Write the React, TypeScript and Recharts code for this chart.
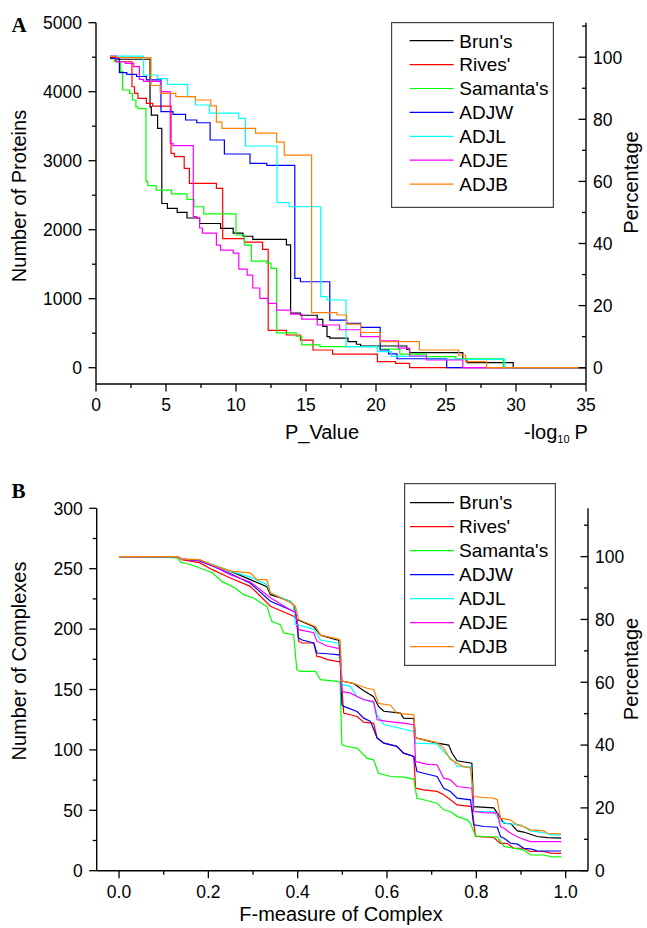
import React from 'react';
import { LineChart, Line, XAxis, YAxis, Legend } from 'recharts';

const FONT = '"Liberation Sans", Arial, Helvetica, sans-serif';
const SERIF = '"Liberation Serif", "Times New Roman", serif';

const seriesNames = ["Brun's", "Rives'", "Samanta's", 'ADJW', 'ADJL', 'ADJE', 'ADJB'];
const seriesColors = ['#000000', '#ff0000', '#00ff00', '#0000ff', '#00ffff', '#ff00ff', '#ff8000'];

// ---- Panel A : number of proteins vs -log10 P (step curves: [x, level from x]) ----
const brunA = [[1, 4490], [1.5, 4470], [3.86, 3780], [3.95, 3660], [4.4, 3470], [4.7, 2380], [5.1, 2310], [5.8, 2250], [6.5, 2170], [7.4, 2090], [8.9, 2020], [9.8, 1950], [10.5, 1905], [11.2, 1860], [13.6, 1780], [13.9, 790], [14.6, 760], [15.8, 700], [16.2, 600], [16.5, 450], [16.7, 430], [18.0, 377], [18.6, 340], [18.9, 315], [22.2, 266], [22.4, 218], [26.2, 122], [26.5, 73], [29.8, 0], [35, 0]];
const rivesA = [[1, 4500], [1.4, 4434], [2.57, 4072], [2.75, 3977], [3.0, 3904], [3.6, 3832], [4.05, 3792], [5.36, 3107], [5.6, 3060], [6.3, 2890], [6.67, 2672], [8.6, 2600], [9.05, 1870], [10.6, 1820], [11.9, 1715], [12.3, 540], [13.6, 474], [14.6, 401], [15.5, 257], [16.9, 198], [20.1, 87], [21.4, 63], [22.4, 0], [35, 0]];
const samantaA = [[1, 4480], [1.3, 4440], [1.75, 4290], [1.9, 4025], [2.4, 3977], [2.6, 3880], [2.85, 3780], [3.0, 3755], [3.57, 2700], [3.7, 2640], [4.3, 2575], [5.4, 2520], [6.5, 2440], [7.0, 2333], [7.7, 2230], [10.0, 1923], [10.6, 1778], [11.1, 1545], [12.2, 1517], [12.5, 1440], [12.9, 505], [14.3, 456], [14.7, 330], [16.0, 305], [20.3, 270], [21.7, 198], [23.6, 160], [25.7, 130], [29.1, 0], [35, 0]];
const adjwA = [[1, 4484], [1.67, 4276], [2.2, 4250], [2.9, 4220], [3.6, 4170], [4.64, 3710], [5.5, 3670], [6.4, 3590], [7.2, 3550], [8.15, 3300], [9.17, 3097], [11.0, 2962], [12.2, 2933], [14.2, 1295], [14.6, 1246], [16.7, 691], [17.9, 643], [18.9, 585], [20.3, 257], [20.9, 200], [21.5, 130], [25.05, 0], [35, 0]];
const adjlA = [[1, 4517], [3.4, 4242], [4.4, 4190], [5.1, 4107], [6.55, 3928], [7.1, 3807], [8.1, 3690], [10.2, 3614], [10.67, 3213], [12.93, 2392], [13.8, 2333], [16.05, 1029], [16.5, 981], [17.86, 305], [20.1, 232], [21.1, 165], [23.6, 122], [29.2, 0], [35, 0]];
const adjeA = [[1, 4517], [1.45, 4434], [2.1, 4410], [2.7, 4363], [3.1, 4180], [3.4, 4150], [4.6, 4000], [5.3, 3252], [5.5, 3220], [6.95, 2190], [7.2, 2170], [7.4, 2025], [7.6, 1950], [8.6, 1778], [8.9, 1705], [9.8, 1660], [10.2, 1430], [10.8, 1343], [11.2, 1155], [11.7, 1005], [12.3, 933], [12.9, 836], [13.9, 778], [14.7, 705], [15.8, 619], [17.4, 550], [18.9, 450], [20.3, 391], [21.6, 285], [22.4, 170], [23.6, 112], [26.2, 0], [35, 0]];
const adjbA = [[1, 4510], [1.5, 4495], [3.93, 4090], [4.6, 3977], [5.7, 3930], [7.1, 3880], [8.2, 3795], [8.6, 3560], [9.0, 3470], [11.4, 3400], [12.9, 3270], [13.45, 3080], [15.4, 797], [17.2, 764], [17.9, 633], [18.9, 510], [20.3, 377], [23.1, 257], [25.9, 184], [26.4, 87], [27.9, 0], [35, 0]];

// ---- Panel B : number of complexes vs F-measure ----
const brunB = [[0, 260], [0.13, 260], [0.14, 258], [0.18, 257], [0.21, 253], [0.249, 248], [0.294, 241], [0.331, 235], [0.339, 228.5], [0.36, 226], [0.383, 223], [0.391, 220], [0.398, 208], [0.436, 202], [0.451, 195], [0.488, 191], [0.492, 191], [0.499, 157], [0.525, 155], [0.548, 149], [0.57, 144], [0.581, 136], [0.593, 132], [0.63, 130.5], [0.637, 126.3], [0.66, 126], [0.664, 110], [0.712, 105.6], [0.738, 104], [0.746, 97], [0.757, 91], [0.79, 89], [0.794, 53], [0.839, 52], [0.847, 47.6], [0.862, 39.3], [0.877, 39], [0.892, 33], [0.906, 32], [0.936, 28.3], [0.959, 27.4], [0.99, 27]];
const rivesB = [[0, 260], [0.13, 260], [0.14, 257.5], [0.18, 255], [0.21, 249], [0.249, 242.3], [0.294, 235.4], [0.339, 218.9], [0.391, 210.6], [0.398, 208], [0.402, 190], [0.41, 188.5], [0.436, 188.5], [0.443, 177.4], [0.451, 177], [0.466, 174.7], [0.488, 173.3], [0.495, 173], [0.503, 130.5], [0.533, 127.7], [0.548, 123], [0.57, 122], [0.578, 109.8], [0.593, 105.6], [0.622, 103], [0.637, 97.3], [0.66, 94.5], [0.664, 68.3], [0.682, 66.9], [0.712, 65.6], [0.727, 62.8], [0.742, 58.7], [0.757, 54.5], [0.79, 53.1], [0.798, 28.3], [0.839, 27.5], [0.854, 22.7], [0.869, 22.7], [0.884, 18.6], [0.906, 18.6], [0.921, 15.9], [0.951, 15.9], [0.966, 14.5], [0.99, 14.4]];
const samantaB = [[0, 260], [0.077, 260], [0.13, 259], [0.14, 255], [0.15, 254.5], [0.17, 252], [0.21, 246.4], [0.23, 239.5], [0.26, 234], [0.279, 228.5], [0.301, 225.8], [0.324, 220.2], [0.331, 219], [0.342, 206.4], [0.361, 203.7], [0.369, 196.8], [0.391, 195.4], [0.398, 166.4], [0.406, 165], [0.44, 165], [0.451, 158.1], [0.488, 156.7], [0.495, 156], [0.499, 104.2], [0.51, 102.8], [0.533, 101.5], [0.555, 93.2], [0.57, 91.8], [0.581, 80.7], [0.608, 78], [0.637, 77.4], [0.66, 75.8], [0.667, 60], [0.682, 58.7], [0.712, 55.9], [0.727, 50.4], [0.742, 49], [0.757, 45], [0.779, 42.1], [0.787, 39.3], [0.798, 28.8], [0.817, 28.3], [0.847, 28], [0.862, 20], [0.884, 18.6], [0.906, 17.2], [0.921, 13], [0.951, 13], [0.966, 11.7], [0.99, 11.5]];
const adjwB = [[0, 260], [0.13, 260], [0.14, 258], [0.18, 256.5], [0.21, 252], [0.249, 246], [0.294, 238], [0.339, 223], [0.383, 216], [0.395, 214], [0.402, 192.6], [0.41, 191], [0.436, 188.5], [0.443, 180.2], [0.466, 179.6], [0.488, 178.8], [0.495, 178.5], [0.499, 137.4], [0.503, 136], [0.533, 131.8], [0.548, 126.3], [0.563, 123.6], [0.578, 109.8], [0.593, 105.6], [0.622, 102.9], [0.637, 97.3], [0.66, 94.5], [0.667, 82.1], [0.682, 80.7], [0.712, 78], [0.727, 68.3], [0.742, 65.6], [0.757, 60], [0.787, 58.7], [0.794, 38], [0.817, 36.6], [0.847, 36], [0.854, 28.3], [0.862, 26.9], [0.877, 22.7], [0.892, 22], [0.906, 18.6], [0.921, 18], [0.936, 16.4], [0.99, 16.3]];
const adjlB = [[0, 260], [0.13, 260], [0.14, 258], [0.18, 257.5], [0.21, 253.5], [0.249, 248], [0.294, 243], [0.331, 237], [0.339, 230], [0.383, 223], [0.391, 219], [0.395, 204], [0.436, 200], [0.451, 191], [0.488, 188.5], [0.495, 188], [0.499, 154], [0.518, 152.6], [0.533, 144], [0.57, 139], [0.578, 129], [0.593, 121], [0.66, 115.3], [0.664, 105.6], [0.712, 105], [0.727, 98.7], [0.75, 90.4], [0.757, 86.3], [0.787, 86], [0.794, 49], [0.839, 49], [0.854, 40.7], [0.869, 39], [0.899, 38], [0.921, 33], [0.959, 31], [0.966, 29.7], [0.99, 29.7]];
const adjeB = [[0, 260], [0.13, 260], [0.14, 258], [0.18, 257], [0.21, 252.5], [0.249, 245], [0.294, 239], [0.339, 226], [0.383, 216], [0.395, 214], [0.402, 199.5], [0.436, 197], [0.443, 190], [0.466, 186], [0.488, 184.3], [0.495, 184], [0.499, 148.4], [0.518, 147], [0.548, 141.5], [0.57, 140], [0.578, 125], [0.6, 123.6], [0.637, 122.2], [0.66, 120.8], [0.664, 90.4], [0.69, 88], [0.712, 87.7], [0.727, 76.6], [0.742, 75.2], [0.757, 69.7], [0.79, 68.3], [0.794, 49], [0.817, 48], [0.847, 47.6], [0.854, 36.6], [0.862, 35.2], [0.877, 31], [0.899, 26.9], [0.921, 24.1], [0.99, 24]];
const adjbB = [[0, 260], [0.13, 260], [0.14, 258], [0.18, 257.5], [0.21, 253], [0.249, 248], [0.294, 246.5], [0.309, 241], [0.331, 241], [0.339, 230], [0.383, 222], [0.395, 219], [0.402, 208], [0.44, 202], [0.451, 195], [0.488, 192], [0.495, 191], [0.499, 157], [0.525, 155], [0.555, 151], [0.57, 150], [0.581, 138.5], [0.608, 137], [0.622, 130.5], [0.66, 129], [0.664, 110], [0.712, 106], [0.727, 101.5], [0.742, 92], [0.772, 86], [0.787, 85], [0.794, 61.4], [0.839, 60], [0.847, 58.7], [0.854, 43.5], [0.877, 42], [0.892, 37.9], [0.906, 36.6], [0.921, 33.8], [0.951, 33], [0.959, 31], [0.99, 30.5]];

// ---- tick values ----
const xTicksA = [0, 2.5, 5, 7.5, 10, 12.5, 15, 17.5, 20, 22.5, 25, 27.5, 30, 32.5, 35];
const yTicksA = [0, 500, 1000, 1500, 2000, 2500, 3000, 3500, 4000, 4500, 5000];
const xTicksB = [0, 0.1, 0.2, 0.3, 0.4, 0.5, 0.6, 0.7, 0.8, 0.9, 1.0];
const yTicksB = [0, 25, 50, 75, 100, 125, 150, 175, 200, 225, 250, 275, 300];
const pctTicks = [0, 10, 20, 30, 40, 50, 60, 70, 80, 90, 100, 110];

const toData = (pts: number[][]) => pts.map(([x, y]) => ({ x, y }));
const seriesA = [brunA, rivesA, samantaA, adjwA, adjlA, adjeA, adjbA].map(toData);
const seriesB = [brunB, rivesB, samantaB, adjwB, adjlB, adjeB, adjbB].map(toData);

const TICK_FS = 17.5;

const bottomTick = (isMajor: (v: number) => boolean, fmt: (v: number) => string) => (props: any) => {
  const { x, y, payload } = props;
  const major = isMajor(payload.value);
  return (
    <g>
      <line x1={x} y1={y} x2={x} y2={y + (major ? 7.5 : 4)} stroke="#000" strokeWidth={1.3} />
      {major && (
        <text x={x} y={y + 27} textAnchor="middle" fontSize={TICK_FS} fontFamily={FONT} fill="#000">
          {fmt(payload.value)}
        </text>
      )}
    </g>
  );
};

const leftTick = (isMajor: (v: number) => boolean) => (props: any) => {
  const { x, y, payload } = props;
  const major = isMajor(payload.value);
  return (
    <g>
      <line x1={x - (major ? 7.5 : 4)} y1={y} x2={x} y2={y} stroke="#000" strokeWidth={1.3} />
      {major && (
        <text x={x - 14} y={y} dy="0.36em" textAnchor="end" fontSize={TICK_FS} fontFamily={FONT} fill="#000">
          {String(payload.value)}
        </text>
      )}
    </g>
  );
};

const rightTick = (props: any) => {
  const { x, y, payload } = props;
  const major = payload.value % 20 === 0 && payload.value <= 100;
  return (
    <g>
      <line x1={x - (major ? 7.5 : 4)} y1={y} x2={x} y2={y} stroke="#000" strokeWidth={1.3} />
      {major && (
        <text x={x + 7} y={y} dy="0.36em" textAnchor="start" fontSize={TICK_FS} fontFamily={FONT} fill="#000">
          {String(payload.value)}
        </text>
      )}
    </g>
  );
};

type Box = { w: number; h: number; r0: number; lx: number; tx: number; step: number };

const legendContent = (box: Box) => () => (
  <svg width={box.w} height={box.h} style={{ display: 'block' }}>
    <rect x={0.6} y={0.6} width={box.w - 1.2} height={box.h - 1.2} fill="#fff" stroke="#444" strokeWidth={1.2} />
    {seriesNames.map((name, i) => (
      <g key={name}>
        <line x1={box.lx} x2={box.lx + 44} y1={box.r0 + i * box.step} y2={box.r0 + i * box.step} stroke={seriesColors[i]} strokeWidth={1.2} />
        <text x={box.tx} y={box.r0 + i * box.step + 6.8} fontSize={19} fontFamily={FONT} fill="#000">
          {name}
        </text>
      </g>
    ))}
  </svg>
);

const axisLine = { stroke: '#000', strokeWidth: 1.4 };

export default function App() {
  return (
    <div style={{ position: 'absolute', left: 0, top: 0, width: 647, height: 928, background: '#fff' }}>
      <div style={{ position: 'absolute', left: 0, top: 0 }}>
        <LineChart width={647} height={450} margin={{ top: 22.7, right: 21, bottom: 36, left: 46 }}>
          <XAxis
            type="number"
            dataKey="x"
            domain={[0, 35]}
            ticks={xTicksA}
            interval={0}
            allowDataOverflow
            height={30}
            tickSize={0}
            tickMargin={0}
            tickLine={false}
            axisLine={axisLine}
            tick={bottomTick((v) => v % 5 === 0, (v) => String(v))}
          />
          <YAxis
            yAxisId="left"
            type="number"
            domain={[-236, 5000]}
            ticks={yTicksA}
            interval={0}
            allowDataOverflow
            width={50}
            tickSize={0}
            tickMargin={0}
            tickLine={false}
            axisLine={axisLine}
            tick={leftTick((v) => v % 1000 === 0)}
          />
          <YAxis
            yAxisId="right"
            orientation="right"
            type="number"
            domain={[-236 / 45, 5000 / 45]}
            ticks={pctTicks}
            interval={0}
            allowDataOverflow
            width={40}
            tickSize={0}
            tickMargin={0}
            tickLine={false}
            axisLine={axisLine}
            tick={rightTick}
          />
          <Legend
            layout="vertical"
            align="center"
            verticalAlign="middle"
            wrapperStyle={{ left: 390.7, top: 22, width: 163, height: 186 }}
            content={legendContent({ w: 163, h: 186, r0: 18.7, lx: 18.6, tx: 68.3, step: 23.9 })}
          />
          {seriesA.map((d, i) => (
            <Line
              key={seriesNames[i]}
              yAxisId="left"
              data={d}
              dataKey="y"
              name={seriesNames[i]}
              type="stepAfter"
              stroke={seriesColors[i]}
              strokeWidth={1.2}
              dot={false}
              activeDot={false}
              isAnimationActive={false}
            />
          ))}
        </LineChart>
      </div>

      <div style={{ position: 'absolute', left: 0, top: 470 }}>
        <LineChart width={647} height={458} margin={{ top: 38.3, right: 19, bottom: 27.3, left: 46.7 }}>
          <XAxis
            type="number"
            dataKey="x"
            domain={[-0.05, 1.05]}
            ticks={xTicksB}
            interval={0}
            allowDataOverflow
            height={30}
            tickSize={0}
            tickMargin={0}
            tickLine={false}
            axisLine={axisLine}
            tick={bottomTick((v) => Math.round(v * 10) % 2 === 0, (v) => v.toFixed(1))}
          />
          <YAxis
            yAxisId="left"
            type="number"
            domain={[0, 300]}
            ticks={yTicksB}
            interval={0}
            allowDataOverflow
            width={50}
            tickSize={0}
            tickMargin={0}
            tickLine={false}
            axisLine={axisLine}
            tick={leftTick((v) => v % 50 === 0)}
          />
          <YAxis
            yAxisId="right"
            orientation="right"
            type="number"
            domain={[0, 300 / 2.6]}
            ticks={pctTicks}
            interval={0}
            allowDataOverflow
            width={40}
            tickSize={0}
            tickMargin={0}
            tickLine={false}
            axisLine={axisLine}
            tick={rightTick}
          />
          <Legend
            layout="vertical"
            align="center"
            verticalAlign="middle"
            wrapperStyle={{ left: 404, top: 12.7, width: 152, height: 183 }}
            content={legendContent({ w: 152, h: 183, r0: 19.6, lx: 6, tx: 55, step: 24 })}
          />
          {seriesB.map((d, i) => (
            <Line
              key={seriesNames[i]}
              yAxisId="left"
              data={d}
              dataKey="y"
              name={seriesNames[i]}
              type="linear"
              stroke={seriesColors[i]}
              strokeWidth={1.2}
              dot={false}
              activeDot={false}
              isAnimationActive={false}
            />
          ))}
        </LineChart>
      </div>

      <svg
        width={647}
        height={928}
        style={{ position: 'absolute', left: 0, top: 0, pointerEvents: 'none' }}
      >
        <text x={11.5} y={31.5} fontSize={21} fontWeight="bold" fontFamily={SERIF}>A</text>
        <text x={11.5} y={498} fontSize={21} fontWeight="bold" fontFamily={SERIF}>B</text>

        <text transform="translate(25.5,196) rotate(-90)" textAnchor="middle" fontSize={20} fontFamily={FONT}>Number of Proteins</text>
        <text x={322} y={439} textAnchor="middle" fontSize={20} fontFamily={FONT}>P_Value</text>
        <text x={524} y={439} fontSize={20} fontFamily={FONT}>
          -log
          <tspan fontSize={11} dy={4}>10</tspan>
          <tspan dy={-4} dx={5}>P</tspan>
        </text>
        <text transform="translate(638,182.5) rotate(-90)" textAnchor="middle" fontSize={20} fontFamily={FONT}>Percentage</text>

        <text transform="translate(25.5,661) rotate(-90)" textAnchor="middle" fontSize={20} fontFamily={FONT}>Number of Complexes</text>
        <text x={341} y={920.5} textAnchor="middle" fontSize={20} fontFamily={FONT}>F-measure of Complex</text>
        <text transform="translate(638,669) rotate(-90)" textAnchor="middle" fontSize={20} fontFamily={FONT}>Percentage</text>
      </svg>
    </div>
  );
}
